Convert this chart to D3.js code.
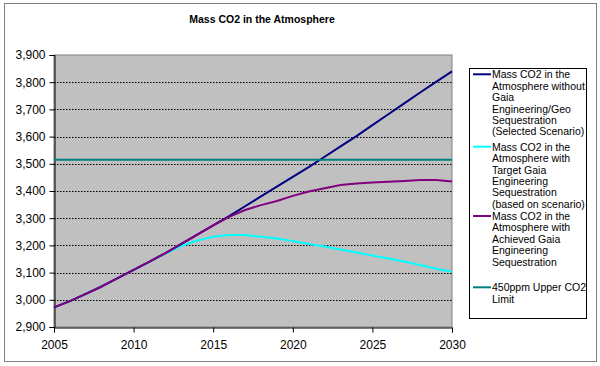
<!DOCTYPE html>
<html>
<head>
<meta charset="utf-8">
<script src="https://cdn.jsdelivr.net/npm/d3@7"></script>
<style>
  body { margin: 0; background: #fff; }
  svg { display: block; font-family: "Liberation Sans", Arial, sans-serif; }
</style>
</head>
<body>
<svg id="chart" width="600" height="366"></svg>
<script>
const years = d3.range(2005, 2031);
const withoutGaia = [2972, 2995, 3022, 3049, 3080, 3110, 3140, 3172, 3206, 3240, 3274, 3308, 3344, 3380, 3416, 3452, 3488, 3526, 3564, 3602, 3642, 3682, 3722, 3762, 3801, 3840];
const targetGaia  = [2972, 2995, 3022, 3049, 3080, 3110, 3140, 3170, 3198, 3218, 3232, 3238, 3238, 3232, 3225, 3216, 3205, 3196, 3185, 3174, 3163, 3152, 3141, 3128, 3114, 3103];
const achievedGaia= [2972, 2995, 3022, 3049, 3080, 3110, 3140, 3172, 3206, 3240, 3274, 3305, 3330, 3348, 3363, 3382, 3398, 3410, 3422, 3428, 3431, 3434, 3437, 3440, 3440, 3435];
const limit450    = years.map(() => 3515);
const yTicks = [2900, 3000, 3100, 3200, 3300, 3400, 3500, 3600, 3700, 3800, 3900];
const xTicks = [2005, 2010, 2015, 2020, 2025, 2030];
const seriesNames = [
  ["Mass CO2 in the", "Atmosphere without", "Gaia", "Engineering/Geo", "Sequestration", "(Selected Scenario)"],
  ["Mass CO2 in the", "Atmosphere with", "Target Gaia", "Engineering", "Sequestration", "(based on scenario)"],
  ["Mass CO2 in the", "Atmosphere with", "Achieved Gaia", "Engineering", "Sequestration"],
  ["450ppm Upper CO2", "Limit"]
];
const seriesColors = ["#000080", "#00FFFF", "#800080", "#008080"];
const title = "Mass CO2 in the Atmosphere";

const svg = d3.select("#chart");
svg.append("rect").attr("x", 4.5).attr("y", 3.5).attr("width", 592).attr("height", 358)
  .attr("fill", "#fff").attr("stroke", "#808080");

const L = 54, R = 452, T = 55, B = 327;
const x = d3.scaleLinear().domain([2005, 2030]).range([L, R]);
const y = d3.scaleLinear().domain([2900, 3900]).range([B, T]);

svg.append("rect").attr("x", L).attr("y", T).attr("width", R - L).attr("height", B - T)
  .attr("fill", "#C0C0C0").attr("stroke", "#808080");

// gridlines
svg.append("g").selectAll("line").data(yTicks.filter(v => v > 2900 && v < 3900)).join("line")
  .attr("x1", L).attr("x2", R).attr("y1", d => Math.round(y(d)) + 0.5).attr("y2", d => Math.round(y(d)) + 0.5)
  .attr("stroke", "#000").attr("stroke-width", 1).attr("stroke-dasharray", "1.5,1.5");

// axes
const yAxis = d3.axisLeft(y).tickValues(yTicks).tickSize(5).tickPadding(4).tickFormat(d3.format(","));
const gy = svg.append("g").attr("transform", `translate(${L + 0.5},0)`).call(yAxis);
const xAxis = d3.axisBottom(x).tickValues(xTicks).tickSize(5).tickPadding(8).tickFormat(d3.format("d"));
const gx = svg.append("g").attr("transform", `translate(0,${B + 0.5})`).call(xAxis);
[gx, gy].forEach(g => {
  g.selectAll("path,line").attr("stroke", "#000");
  g.selectAll("text").attr("font-size", 12).attr("fill", "#000")
    .attr("font-family", "'Liberation Sans', Arial, sans-serif");
});

// series
const allSeries = [withoutGaia, targetGaia, achievedGaia, limit450];
const line = d3.line().x((d, i) => x(years[i])).y(d => y(d));
[1, 0, 2, 3].forEach(k => {
  svg.append("path").datum(allSeries[k]).attr("d", line)
    .attr("fill", "none").attr("stroke", seriesColors[k]).attr("stroke-width", 2)
    .attr("stroke-linejoin", "round");
});

// title
svg.append("text").attr("x", 262).attr("y", 23).attr("text-anchor", "middle")
  .attr("font-size", 10.5).attr("font-weight", "bold").attr("fill", "#000").text(title);

// legend
const lg = svg.append("g");
lg.append("rect").attr("x", 469.5).attr("y", 68.5).attr("width", 117).attr("height", 250)
  .attr("fill", "#fff").attr("stroke", "#000");
const entryTop = [74.3, 146.7, 216, 287.3];
const lh = 11.4;
seriesNames.forEach((lines, k) => {
  lg.append("line").attr("x1", 473).attr("x2", 491)
    .attr("y1", entryTop[k]).attr("y2", entryTop[k])
    .attr("stroke", seriesColors[k]).attr("stroke-width", 2);
  const t = lg.append("text").attr("font-size", 10.5).attr("fill", "#000");
  lines.forEach((s, j) => {
    t.append("tspan").attr("x", 492).attr("y", entryTop[k] + j * lh + 4).text(s);
  });
});
</script>
</body>
</html>
